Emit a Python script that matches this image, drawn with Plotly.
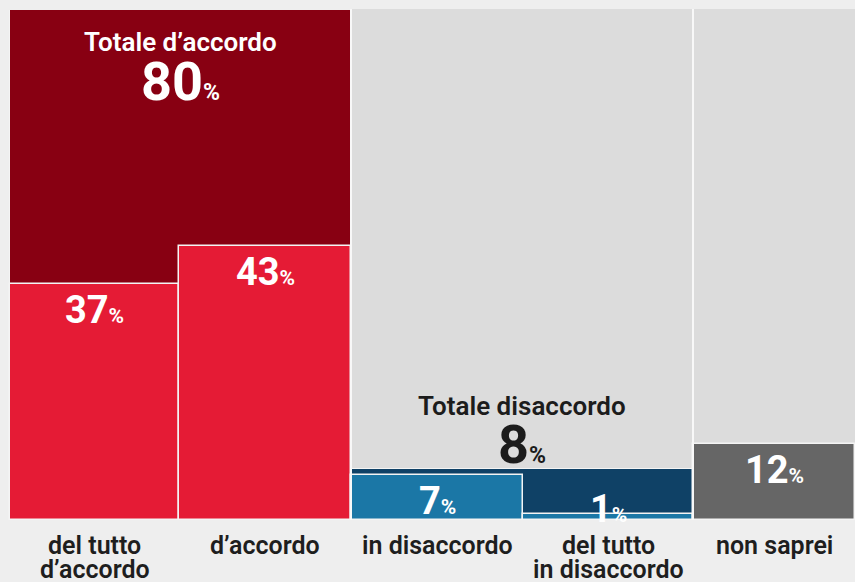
import plotly.graph_objects as go

# Survey answers
categories = ["del tutto<br>d’accordo", "d’accordo", "in disaccordo", "del tutto<br>in disaccordo", "non saprei"]
values = [37, 43, 7, 1, 12]

# Grouped totals (agree / disagree)
group_labels = ["Totale d’accordo", "Totale disaccordo"]
group_totals = [80, 8]

# Layout geometry (x in plot units, one unit per pixel)
X_MAX = 855
sub_spans = [(10, 179), (179, 351), (351, 523), (523, 693), (693, 855)]
group_spans = [(10, 351), (351, 693)]
col_bg_spans = [(351, 693), (693, 855)]

sub_colors = ["#e51b35", "#e51b35", "#1b77a6", "#1b77a6", "#666666"]
group_colors = ["#880012", "#0f4166"]

W, H = 855, 582
M_T, M_B = 10, 62
plot_h = H - M_T - M_B
Y_MAX = group_totals[0]
px_per_unit = plot_h / Y_MAX

FONT = "Roboto"

fig = go.Figure()

# light grey backgrounds behind the right-hand columns
for x0, x1 in col_bg_spans:
    fig.add_shape(type="rect", xref="x", yref="paper", x0=x0, x1=x1, y0=0, y1=1.002,
                  fillcolor="#dcdcdc", line_width=0, layer="below")

# group totals
fig.add_trace(go.Bar(
    x=[(a + b) / 2 for a, b in group_spans],
    y=group_totals,
    width=[b - a for a, b in group_spans],
    marker=dict(color=group_colors, line=dict(color="#f4f4f4", width=1)),
    hoverinfo="skip", showlegend=False,
))

# individual answers
fig.add_trace(go.Bar(
    x=[(a + b) / 2 for a, b in sub_spans],
    y=values,
    width=[b - a for a, b in sub_spans],
    marker=dict(color=sub_colors, line=dict(color="#f4f4f4", width=1.5)),
    hoverinfo="skip", showlegend=False,
))

# white separators between the column blocks
for xs in (351, 693):
    fig.add_shape(type="line", xref="x", yref="paper", x0=xs, x1=xs, y0=0, y1=1.002,
                  line=dict(color="#f8f8f8", width=2), layer="above")


def pct(v, big, small):
    return (f"<span style='font-size:{big}px'><b>{v}</b></span>"
            f"<span style='font-size:{small}px'><b>%</b></span>")


annotations = []

# group headings: inside the bar when tall, above it otherwise
for (x0, x1), label, total in zip(group_spans, group_labels, group_totals):
    cx = (x0 + x1) / 2
    if total * px_per_unit > 150:
        col = "white"
        t_shift, n_shift = -32, -71
    else:
        col = "#1c1c1c"
        t_shift, n_shift = 63, 25
    annotations.append(dict(x=cx, y=total, xref="x", yref="y", text=label,
                            showarrow=False, yanchor="middle", yshift=t_shift,
                            font=dict(family=FONT, size=26, color=col, weight=600)))
    annotations.append(dict(x=cx, y=total, xref="x", yref="y", text=pct(total, 54, 23),
                            showarrow=False, yanchor="middle", yshift=n_shift,
                            font=dict(family=FONT, size=54, color=col, weight=900)))

# value labels for each answer
for (x0, x1), v in zip(sub_spans, values):
    cx = (x0 + x1) / 2
    if v * px_per_unit > 30:
        y, ys = v, -26
    else:
        y, ys = 0, 11
    annotations.append(dict(x=cx, y=y, xref="x", yref="y", text=pct(v, 38, 21),
                            showarrow=False, yanchor="middle", yshift=ys,
                            font=dict(family=FONT, size=38, color="white", weight=900)))

# category names under the bars
for (x0, x1), cat in zip(sub_spans, categories):
    cx = (x0 + x1) / 2
    for i, line in enumerate(cat.split("<br>")):
        annotations.append(dict(x=cx, y=0, xref="x", yref="y", text=line,
                                showarrow=False, yanchor="middle", yshift=-25 - 24 * i,
                                font=dict(family=FONT, size=25, color="#1e1e1e", weight=600)))

fig.update_layout(
    width=W, height=H,
    margin=dict(l=0, r=0, t=M_T, b=M_B, pad=0),
    paper_bgcolor="#eeeeee", plot_bgcolor="#eeeeee",
    barmode="overlay", bargap=0,
    xaxis=dict(range=[0, X_MAX], visible=False, fixedrange=True),
    yaxis=dict(range=[0, Y_MAX], visible=False, fixedrange=True),
    annotations=annotations,
)

fig.write_html("out.html")
